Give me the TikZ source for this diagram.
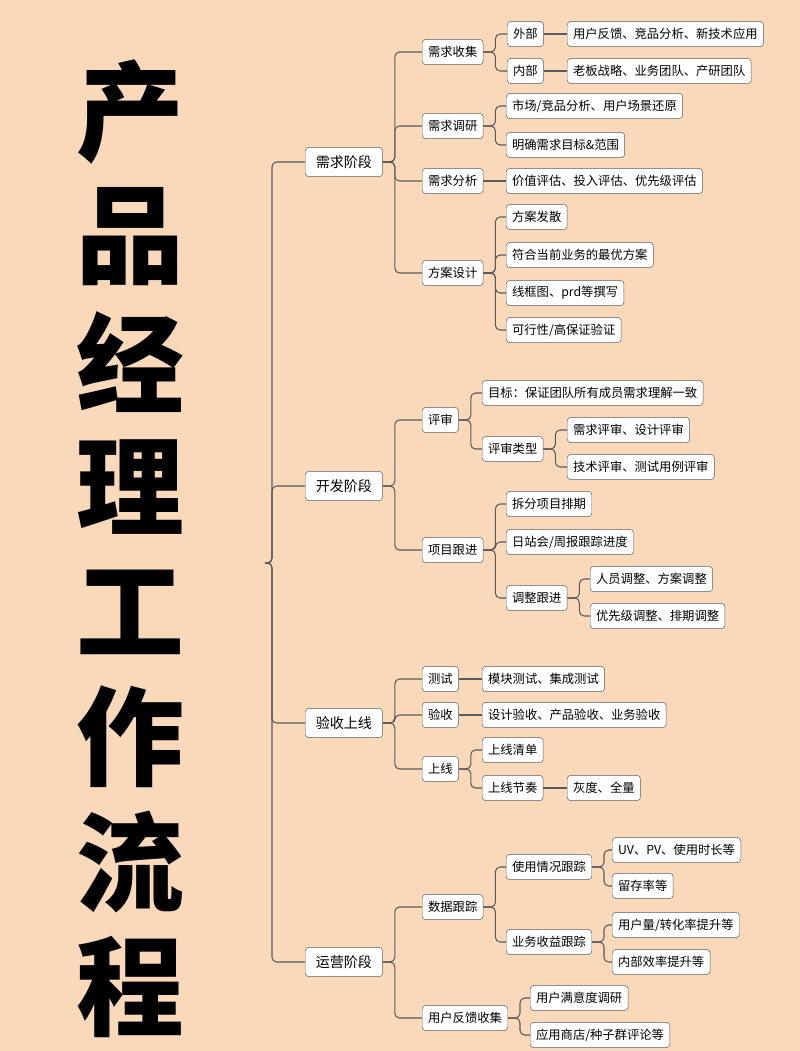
\documentclass[tikz,border=0pt]{standalone}
\usepackage{fontspec}
\setmainfont{Noto Sans CJK SC}
\definecolor{peach}{HTML}{FAD9BB}
\definecolor{linegray}{HTML}{5A5A5A}
\tikzset{
  box/.style={draw=linegray, fill=white, rounded corners=3pt, inner xsep=5pt,
    minimum height=7.6mm, font=\fontsize{10.5pt}{12pt}\selectfont, anchor=west},
  stage/.style={box, minimum height=8.8mm, inner xsep=9pt, font=\fontsize{12pt}{14pt}\selectfont},
  link/.style={draw=linegray, line width=0.9pt, rounded corners=4pt}
}
\begin{document}
\begin{tikzpicture}[x=0.3mm,y=-0.3mm]
	\fill[peach] (0,0) rectangle (800,1051);
	\useasboundingbox (0,0) rectangle (800,1051);
	
	% Title
	\foreach \ch [count=\i from 0] in {产,品,经,理,工,作,流,程} {
		\node[font=\fontsize{92pt}{92pt}\selectfont\bfseries] at (130,112+125*\i) {\ch};
	}
	
	\coordinate (root) at (270,563);
	
	% Stages
	\node[stage] (s1) at (305,162) {需求阶段};
	\node[stage] (s2) at (305,486) {开发阶段};
	\node[stage] (s3) at (305,723) {验收上线};
	\node[stage] (s4) at (305,962) {运营阶段};
	
	% 需求阶段
	\node[box] (a1) at (422,52) {需求收集};
	\node[box] (a2) at (422,126) {需求调研};
	\node[box] (a3) at (422,181) {需求分析};
	\node[box] (a4) at (422,273) {方案设计};
	\node[box] (a11) at (507,34) {外部};
	\node[box] (a12) at (507,71) {内部};
	\node[box] (a111) at (567,34) {用户反馈、竞品分析、新技术应用};
	\node[box] (a121) at (567,71) {老板战略、业务团队、产研团队};
	\node[box] (a21) at (506,106) {市场/竞品分析、用户场景还原};
	\node[box] (a22) at (506,145) {明确需求目标\&范围};
	\node[box] (a31) at (506,181) {价值评估、投入评估、优先级评估};
	\node[box] (a41) at (506,217) {方案发散};
	\node[box] (a42) at (506,255) {符合当前业务的最优方案};
	\node[box] (a43) at (506,293) {线框图、prd等撰写};
	\node[box] (a44) at (506,330) {可行性/高保证验证};
	
	% 开发阶段
	\node[box] (b1) at (422,420) {评审};
	\node[box] (b2) at (422,550) {项目跟进};
	\node[box] (b11) at (482,393) {目标：保证团队所有成员需求理解一致};
	\node[box] (b12) at (482,449) {评审类型};
	\node[box] (b121) at (567,430) {需求评审、设计评审};
	\node[box] (b122) at (567,467) {技术评审、测试用例评审};
	\node[box] (b21) at (506,504) {拆分项目排期};
	\node[box] (b22) at (506,542) {日站会/周报跟踪进度};
	\node[box] (b23) at (506,598) {调整跟进};
	\node[box] (b231) at (590,579) {人员调整、方案调整};
	\node[box] (b232) at (590,616) {优先级调整、排期调整};
	
	% 验收上线
	\node[box] (c1) at (422,679) {测试};
	\node[box] (c2) at (422,715) {验收};
	\node[box] (c3) at (422,769) {上线};
	\node[box] (c11) at (482,679) {模块测试、集成测试};
	\node[box] (c21) at (482,715) {设计验收、产品验收、业务验收};
	\node[box] (c31) at (482,750) {上线清单};
	\node[box] (c32) at (482,788) {上线节奏};
	\node[box] (c321) at (567,788) {灰度、全量};
	
	% 运营阶段
	\node[box] (d1) at (422,907) {数据跟踪};
	\node[box] (d2) at (422,1018) {用户反馈收集};
	\node[box] (d11) at (506,867) {使用情况跟踪};
	\node[box] (d12) at (506,942) {业务收益跟踪};
	\node[box] (d111) at (612,850) {UV、PV、使用时长等};
	\node[box] (d112) at (612,886) {留存率等};
	\node[box] (d121) at (612,925) {用户量/转化率提升等};
	\node[box] (d122) at (612,962) {内部效率提升等};
	\node[box] (d21) at (530,998) {用户满意度调研};
	\node[box] (d22) at (530,1035) {应用商店/种子群评论等};
	
	% Lines
	\foreach \c in {s1,s2,s3,s4}
		\draw[link] (root) -- ++(2,0) |- (\c.west);
	\foreach \p/\c in {s1/a1,s1/a2,s1/a3,s1/a4,a1/a11,a1/a12,
		a2/a21,a2/a22,a4/a41,a4/a42,a4/a43,a4/a44,
		s2/b1,s2/b2,b1/b11,b1/b12,b12/b121,b12/b122,b2/b21,b2/b22,b2/b23,b23/b231,b23/b232,
		s3/c1,s3/c2,s3/c3,c3/c31,c3/c32,
		s4/d1,s4/d2,d1/d11,d1/d12,d11/d111,d11/d112,d12/d121,d12/d122,d2/d21,d2/d22}
		\draw[link] (\p.east) -- ++(12,0) |- (\c.west);
	\foreach \p/\c in {a11/a111,a12/a121,a3/a31,c1/c11,c2/c21,c32/c321}
		\draw[link] (\p.east) -- (\c.west);
\end{tikzpicture}
\end{document}
